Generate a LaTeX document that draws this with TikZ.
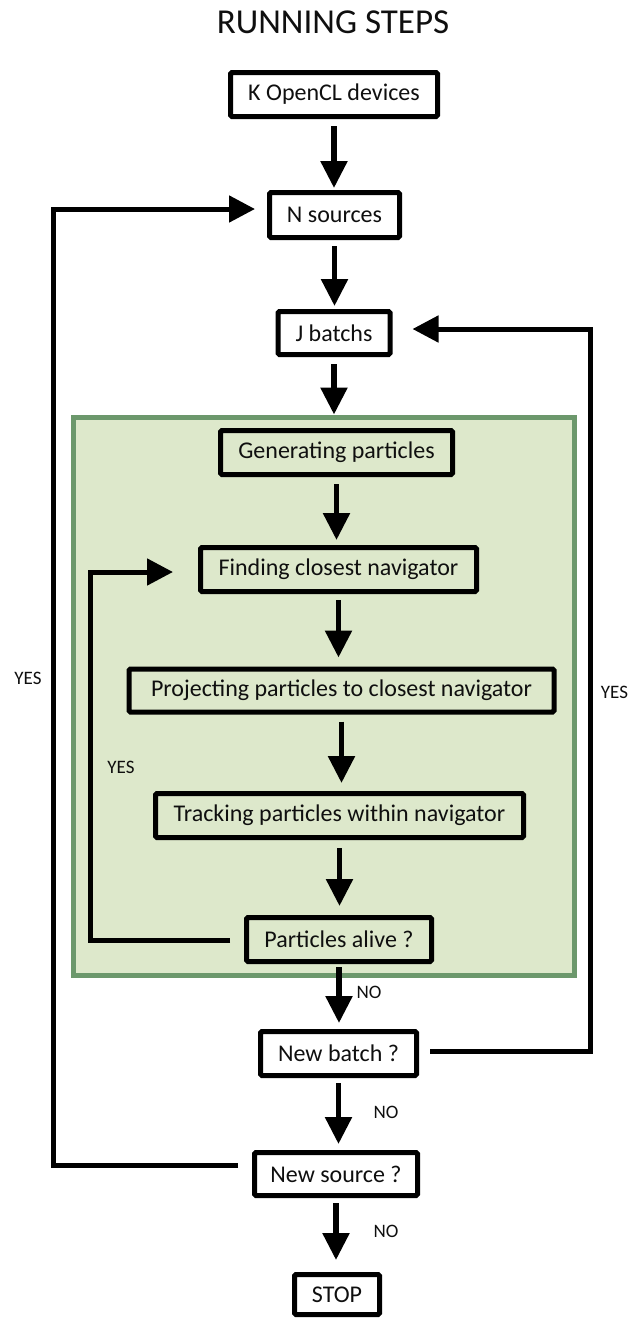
\documentclass[tikz,border=0pt]{standalone}
\usepackage{fontspec}
\setmainfont{Carlito}
\usetikzlibrary{arrows.meta,calc}
\definecolor{panelfill}{RGB}{221,232,203}
\definecolor{panelline}{RGB}{108,152,108}
\definecolor{ink}{RGB}{15,15,15}

\begin{document}
\begin{tikzpicture}[x=1pt,y=-1pt,
  stepbox/.style={draw=black, line width=5pt, rounded corners=1.5pt, fill=white,
    inner sep=0pt, text=ink, font=\fontsize{24}{28}\selectfont},
  inbox/.style={stepbox, fill=panelfill},
  flow/.style={line width=5.5pt, -{Triangle[width=26pt,length=27pt]}},
  back/.style={line width=5pt, -{Triangle[width=26pt,length=26pt]}},
  lbl/.style={font=\fontsize{19}{21}\selectfont, inner sep=0pt, text=ink}]
\useasboundingbox (0,0) rectangle (633,1318);

% title
\node[font=\fontsize{35}{40}\selectfont, text=ink] (title) at (333,22) {RUNNING STEPS};

% green panel holding the per-batch particle steps
\node[draw=panelline, fill=panelfill, line width=5pt, inner sep=0pt,
  minimum width=501pt, minimum height=558pt] (panel) at (323.5,696) {};

% outer steps
\node[stepbox, minimum width=207pt, minimum height=44pt] (k) at (334,94.5) {K OpenCL devices};
\node[stepbox, minimum width=130pt, minimum height=45pt] (n) at (334.5,215) {N sources};
\node[stepbox, minimum width=112pt, minimum height=43pt] (j) at (334,333) {J batchs};

% steps inside the panel
\node[inbox, minimum width=232pt, minimum height=44pt] (gen) at (336.5,452.5) {Generating particles};
\node[inbox, minimum width=276pt, minimum height=44pt] (find) at (338.5,569.5) {Finding closest navigator};
\node[inbox, minimum width=425pt, minimum height=43pt] (proj) at (341.5,690.5) {Projecting particles to closest navigator};
\node[inbox, minimum width=368pt, minimum height=44pt] (track) at (339.5,815.5) {Tracking particles within navigator};
\node[inbox, minimum width=185pt, minimum height=44pt] (alive) at (339,939.5) {Particles alive ?};

% decisions below the panel
\node[stepbox, minimum width=156pt, minimum height=44pt] (newbatch) at (338.5,1053.5) {New batch ?};
\node[stepbox, minimum width=163pt, minimum height=43pt] (newsource) at (336,1174) {New source ?};
\node[stepbox, minimum width=85pt, minimum height=40pt] (stop) at (337,1294.5) {STOP};

% straight downward flow
\draw[flow, shorten <=7pt, shorten >=2pt] (k.south) -- (k.south |- n.north);
\draw[flow, shorten <=6pt, shorten >=3pt] (n.south) -- (n.south |- j.north);
\draw[flow, shorten <=7pt, shorten >=0pt] (j.south) -- (j.south |- panel.north);
\draw[flow, shorten <=7pt, shorten >=5pt] (gen.south) -- (gen.south |- find.north);
\draw[flow, shorten <=6pt, shorten >=9pt] (find.south) -- (find.south |- proj.north);
\draw[flow, shorten <=7pt, shorten >=8pt] (proj.south) -- (proj.south |- track.north);
\draw[flow, shorten <=8pt, shorten >=9pt] (track.south) -- (track.south |- alive.north);
\draw[flow, shorten <=3pt, shorten >=6pt] (alive.south) -- (alive.south |- newbatch.north);
\draw[flow, shorten <=5pt, shorten >=6pt] (newbatch.south) -- (newbatch.south |- newsource.north);
\draw[flow, shorten <=5pt, shorten >=12pt] (newsource.south) -- (newsource.south |- stop.north);

% feedback loops
\coordinate (inTop) at (90,572);
\coordinate (inBot) at (90,940);
\draw[back] ([shift={(-14,0.5)}]alive.west) -- (inBot) -- (inTop) -- ([shift={(-25,2.5)}]find.west);

\coordinate (rBot) at (590,1051);
\coordinate (rTop) at (590,329);
\draw[back] ([shift={(11,-2.5)}]newbatch.east) -- (rBot) -- (rTop) -- ([shift={(20,-4)}]j.east);

\coordinate (lBot) at (53,1165);
\coordinate (lTop) at (53,209);
\draw[back] ([shift={(-14,-9)}]newsource.west) -- (lBot) -- (lTop) -- ([shift={(-12,-6)}]n.west);

% branch labels
\node[lbl] (yesOuter) at (28,678) {YES};
\node[lbl] (yesInner) at (121,767) {YES};
\node[lbl] (yesRight) at (614.5,692.5) {YES};
\node[lbl] (noAlive) at (369,992) {NO};
\node[lbl] (noBatch) at (386,1112) {NO};
\node[lbl] (noSource) at (386,1231) {NO};
\end{tikzpicture}
\end{document}
